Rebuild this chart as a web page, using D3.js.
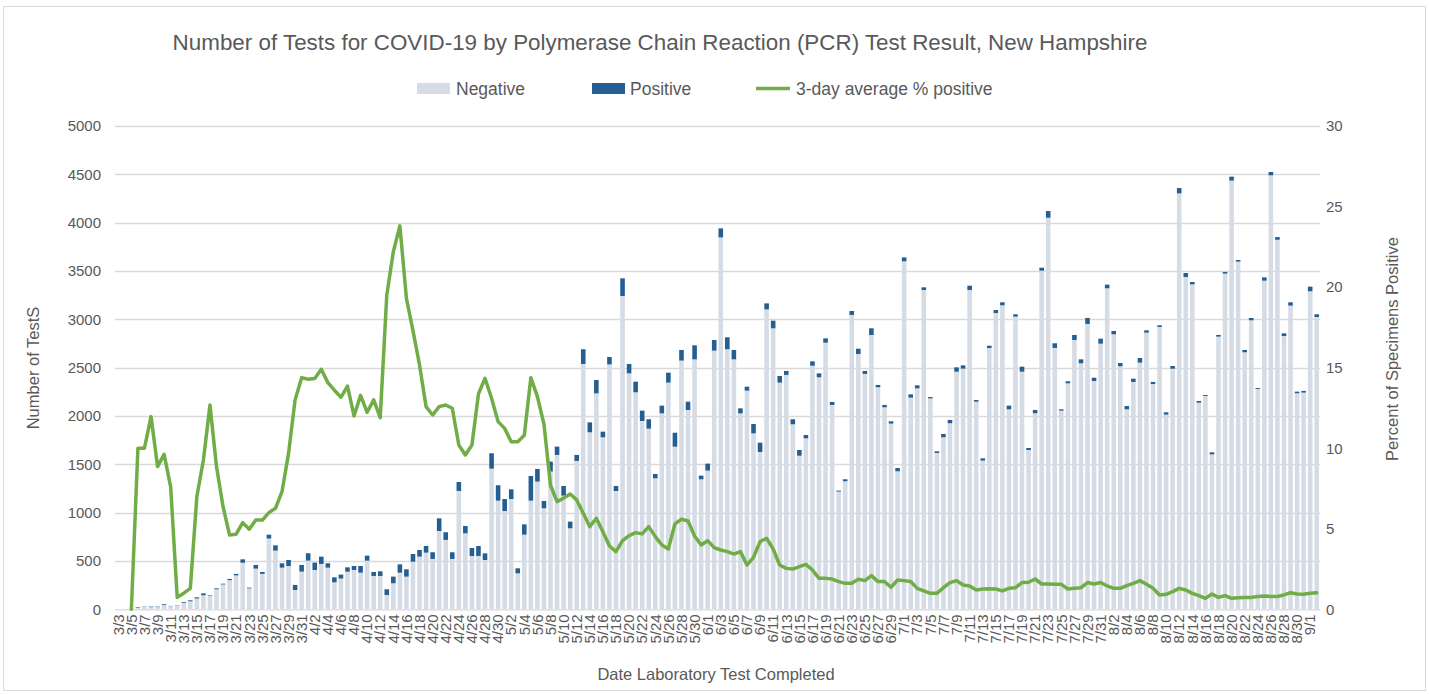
<!DOCTYPE html>
<html>
<head>
<meta charset="utf-8">
<script src="https://cdn.jsdelivr.net/npm/d3@7"></script>
<style>
  html, body { margin: 0; padding: 0; background: #fff; }
  svg { display: block; font-family: "Liberation Sans", Arial, sans-serif; }
</style>
</head>
<body>
<svg id="chart" width="1429" height="694"></svg>
<script>
const dates = [
  "3/3","3/4","3/5","3/6","3/7","3/8","3/9","3/10","3/11","3/12","3/13","3/14","3/15","3/16","3/17","3/18","3/19","3/20","3/21","3/22","3/23","3/24","3/25","3/26","3/27","3/28","3/29","3/30","3/31",
  "4/1","4/2","4/3","4/4","4/5","4/6","4/7","4/8","4/9","4/10","4/11","4/12","4/13","4/14","4/15","4/16","4/17","4/18","4/19","4/20","4/21","4/22","4/23","4/24","4/25","4/26","4/27","4/28","4/29","4/30",
  "5/1","5/2","5/3","5/4","5/5","5/6","5/7","5/8","5/9","5/10","5/11","5/12","5/13","5/14","5/15","5/16","5/17","5/18","5/19","5/20","5/21","5/22","5/23","5/24","5/25","5/26","5/27","5/28","5/29","5/30","5/31",
  "6/1","6/2","6/3","6/4","6/5","6/6","6/7","6/8","6/9","6/10","6/11","6/12","6/13","6/14","6/15","6/16","6/17","6/18","6/19","6/20","6/21","6/22","6/23","6/24","6/25","6/26","6/27","6/28","6/29","6/30",
  "7/1","7/2","7/3","7/4","7/5","7/6","7/7","7/8","7/9","7/10","7/11","7/12","7/13","7/14","7/15","7/16","7/17","7/18","7/19","7/20","7/21","7/22","7/23","7/24","7/25","7/26","7/27","7/28","7/29","7/30","7/31",
  "8/1","8/2","8/3","8/4","8/5","8/6","8/7","8/8","8/9","8/10","8/11","8/12","8/13","8/14","8/15","8/16","8/17","8/18","8/19","8/20","8/21","8/22","8/23","8/24","8/25","8/26","8/27","8/28","8/29","8/30","8/31",
  "9/1","9/2"
];

const negative = [
  0,0,4,18,25,22,23,47,32,42,
  68,83,112,145,139,207,257,302,351,482,
  216,421,366,732,607,431,448,200,390,504,
  407,469,431,279,318,389,407,379,503,345,
  345,148,269,379,338,493,545,586,521,810,
  718,521,1224,786,551,552,510,1455,1124,1017,
  1141,372,772,1124,1321,1045,1425,1597,1176,838,
  1535,2538,1831,2234,1779,2534,1224,3241,2441,2245,
  1948,1869,1355,2028,2345,1682,2573,2062,2586,1345,
  1435,2676,3848,2690,2586,2027,2262,1820,1627,3103,
  2907,2345,2425,1914,1589,1769,2520,2400,2758,2114,
  1218,1325,3045,2641,2435,2838,2297,2090,1921,1428,
  3600,2190,2286,3303,2182,1617,1780,1925,2458,2490,
  3303,2148,1538,2703,3065,3145,2069,3028,2458,1648,
  2028,3503,4051,2704,2055,2338,2786,2545,2952,2362,
  2748,3321,2845,2514,2069,2352,2552,2862,2331,2921,
  2014,2489,4303,3438,3362,2138,2207,1603,2821,3473,
  4435,3597,2659,2990,2280,3400,4490,3823,2827,3142,
  2235,2242,3290,3024
];

const positive = [
  0,0,1,6,3,6,5,8,3,3,
  8,10,12,20,6,10,8,12,15,35,
  8,38,20,40,55,45,62,52,69,76,
  76,76,45,52,41,45,41,69,52,41,
  48,59,69,86,76,79,69,69,69,131,
  79,69,93,76,83,103,69,159,159,124,
  100,52,107,255,131,76,103,86,100,69,
  62,152,103,138,59,76,52,183,97,110,
  107,97,45,79,103,145,110,86,145,38,
  72,110,93,124,97,52,41,97,97,62,
  79,69,41,52,59,34,45,41,45,31,
  10,20,41,55,31,69,24,24,24,34,
  41,34,31,28,14,17,34,34,45,34,
  45,17,24,24,31,31,38,24,52,21,
  34,31,69,48,14,21,52,41,62,34,
  52,38,34,34,34,34,48,24,21,17,
  24,28,55,41,24,17,10,21,17,17,
  41,17,24,24,10,34,34,28,28,34,
  17,17,48,28
];

const pctPositive = [
  null,null,0,10.0,10.0,11.96,8.86,9.62,7.6,0.74,
  1.0,1.3,7.0,9.27,12.68,8.86,6.37,4.61,4.66,5.38,
  4.97,5.54,5.54,6.0,6.27,7.3,9.68,13.0,14.38,14.28,
  14.32,14.9,14.07,13.6,13.16,13.86,12.0,13.28,12.23,13.0,
  11.9,19.5,22.2,23.8,19.3,17.3,15.17,12.58,12.06,12.58,
  12.68,12.48,10.2,9.58,10.2,13.37,14.34,13.1,11.65,11.23,
  10.4,10.4,10.8,14.38,13.2,11.5,7.7,6.68,6.9,7.16,
  6.79,5.96,5.13,5.65,4.82,3.93,3.58,4.26,4.57,4.76,
  4.68,5.13,4.51,3.99,3.74,5.3,5.59,5.48,4.55,3.99,
  4.26,3.83,3.68,3.58,3.43,3.58,2.75,3.23,4.2,4.41,
  3.74,2.75,2.54,2.5,2.65,2.79,2.44,1.92,1.92,1.88,
  1.72,1.61,1.61,1.86,1.78,2.09,1.72,1.72,1.37,1.82,
  1.78,1.72,1.3,1.14,0.99,0.99,1.34,1.66,1.78,1.51,
  1.45,1.2,1.26,1.28,1.26,1.14,1.3,1.34,1.66,1.68,
  1.88,1.57,1.57,1.55,1.55,1.26,1.3,1.34,1.66,1.57,
  1.66,1.45,1.3,1.3,1.47,1.61,1.78,1.55,1.3,0.89,
  0.93,1.1,1.3,1.2,0.99,0.85,0.68,0.95,0.74,0.85,
  0.68,0.72,0.74,0.74,0.79,0.83,0.79,0.79,0.89,1.03,
  0.95,0.93,0.99,1.03
];

const leftTicks = [0, 500, 1000, 1500, 2000, 2500, 3000, 3500, 4000, 4500, 5000];
const rightTicks = [0, 5, 10, 15, 20, 25, 30];

const titleText = "Number of Tests for COVID-19 by Polymerase Chain Reaction (PCR) Test Result, New Hampshire";
const legendLabels = ["Negative", "Positive", "3-day average % positive"];
const yLeftTitle = "Number of TestS";
const yRightTitle = "Percent of Specimens Positive";
const xTitle = "Date Laboratory Test Completed";

// ---- layout ----
const W = 1429, H = 694;
const plot = { left: 115, right: 1320, top: 126, bottom: 609.3 };
const colNeg = "#D6DCE5", colPos = "#255E91", colLine = "#70AD47";
const textCol = "#595959", gridCol = "#D9D9D9";
const fontFam = "'Liberation Sans', Arial, sans-serif";

const svg = d3.select("#chart");

// chart border
svg.append("rect").attr("x", 3.5).attr("y", 6.5).attr("width", W - 7).attr("height", H - 10)
  .attr("fill", "#fff").attr("stroke", gridCol).attr("stroke-width", 1);

const x = d3.scaleBand().domain(dates).range([plot.left, plot.right])
  .paddingInner(0.3).paddingOuter(0.15);
const yL = d3.scaleLinear().domain([0, 5000]).range([plot.bottom, plot.top]);
const yR = d3.scaleLinear().domain([0, 30]).range([plot.bottom, plot.top]);

// gridlines
svg.append("g").selectAll("line").data(leftTicks.filter(d => d > 0)).join("line")
  .attr("x1", plot.left).attr("x2", plot.right)
  .attr("y1", d => Math.round(yL(d)) + 0.5).attr("y2", d => Math.round(yL(d)) + 0.5)
  .attr("stroke", gridCol).attr("stroke-width", 1.3);

// left axis
const axL = svg.append("g").attr("transform", `translate(${plot.left - 14},0)`)
  .call(d3.axisLeft(yL).tickValues(leftTicks).tickFormat(d3.format("d")).tickSize(0).tickPadding(0));
axL.select(".domain").remove();
axL.selectAll("text").attr("fill", textCol).style("font-size", "15px").style("font-family", fontFam);

// right axis
const axR = svg.append("g").attr("transform", `translate(${plot.right + 6},0)`)
  .call(d3.axisRight(yR).tickValues(rightTicks).tickFormat(d3.format("d")).tickSize(0).tickPadding(0));
axR.select(".domain").remove();
axR.selectAll("text").attr("fill", textCol).style("font-size", "15px").style("font-family", fontFam);

// bars
const rows = dates.map((d, i) => ({ date: d, neg: negative[i], pos: positive[i], pct: pctPositive[i] }));
const bars = svg.append("g");
bars.selectAll("rect.neg").data(rows).join("rect").attr("class", "neg")
  .attr("x", d => x(d.date)).attr("width", x.bandwidth())
  .attr("y", d => yL(d.neg)).attr("height", d => yL(0) - yL(d.neg))
  .attr("fill", colNeg);
bars.selectAll("rect.pos").data(rows).join("rect").attr("class", "pos")
  .attr("x", d => x(d.date)).attr("width", x.bandwidth())
  .attr("y", d => yL(d.neg + d.pos)).attr("height", d => yL(d.neg) - yL(d.neg + d.pos))
  .attr("fill", colPos);

// x axis line
svg.append("line").attr("x1", plot.left).attr("x2", plot.right)
  .attr("y1", plot.bottom + 0.5).attr("y2", plot.bottom + 0.5)
  .attr("stroke", gridCol).attr("stroke-width", 1.3);

// line
const line = d3.line()
  .defined(d => d.pct !== null)
  .x(d => x(d.date) + x.bandwidth() / 2)
  .y(d => yR(d.pct));
svg.append("path").datum(rows).attr("d", line)
  .attr("fill", "none").attr("stroke", colLine).attr("stroke-width", 3.5)
  .attr("stroke-linejoin", "round").attr("stroke-linecap", "round");

// x axis labels
const axX = svg.append("g").attr("transform", `translate(0,${plot.bottom + 5})`)
  .call(d3.axisBottom(x).tickValues(dates.filter((d, i) => i % 2 === 0)).tickSize(0).tickPadding(0));
axX.select(".domain").remove();
axX.selectAll("text")
  .attr("fill", textCol).style("font-size", "15px").style("font-family", fontFam)
  .attr("text-anchor", "end").attr("transform", "rotate(-90)")
  .attr("x", 0).attr("y", 0).attr("dy", "0.35em");

// title
svg.append("text").attr("x", 660).attr("y", 50).attr("text-anchor", "middle")
  .attr("fill", textCol).style("font-size", "22.4px").text(titleText);

// axis titles
svg.append("text").attr("transform", `translate(39,368) rotate(-90)`).attr("text-anchor", "middle")
  .attr("fill", textCol).style("font-size", "16.5px").text(yLeftTitle);
svg.append("text").attr("transform", `translate(1398,349) rotate(-90)`).attr("text-anchor", "middle")
  .attr("fill", textCol).style("font-size", "16.5px").text(yRightTitle);
svg.append("text").attr("x", 716).attr("y", 680).attr("text-anchor", "middle")
  .attr("fill", textCol).style("font-size", "16.5px").text(xTitle);

// legend
const lg = svg.append("g");
lg.append("rect").attr("x", 417).attr("y", 83).attr("width", 33).attr("height", 11).attr("fill", colNeg);
lg.append("text").attr("x", 456).attr("y", 94.5).attr("fill", textCol).style("font-size", "17.5px").text(legendLabels[0]);
lg.append("rect").attr("x", 592).attr("y", 83).attr("width", 33).attr("height", 11).attr("fill", colPos);
lg.append("text").attr("x", 630).attr("y", 94.5).attr("fill", textCol).style("font-size", "17.5px").text(legendLabels[1]);
lg.append("line").attr("x1", 756).attr("x2", 790).attr("y1", 88.5).attr("y2", 88.5)
  .attr("stroke", colLine).attr("stroke-width", 3.5);
lg.append("text").attr("x", 796).attr("y", 94.5).attr("fill", textCol).style("font-size", "17.5px").text(legendLabels[2]);
</script>
</body>
</html>
